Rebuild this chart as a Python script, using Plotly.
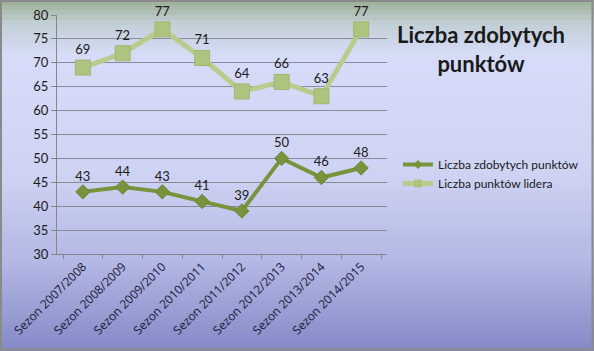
import plotly.graph_objects as go

categories = ["Sezon 2007/2008", "Sezon 2008/2009", "Sezon 2009/2010", "Sezon 2010/2011",
              "Sezon 2011/2012", "Sezon 2012/2013", "Sezon 2013/2014", "Sezon 2014/2015"]
zdobyte = [43, 44, 43, 41, 39, 50, 46, 48]
lider = [69, 72, 77, 71, 64, 66, 63, 77]
y_ticks = [30, 35, 40, 45, 50, 55, 60, 65, 70, 75, 80]
series_names = ["Liczba zdobytych punktów", "Liczba punktów lidera"]

W, H = 594, 351
L, R, T, B = 57, 207, 15, 97
pw, ph = W - L - R, H - T - B

DARK, DARK_M = "#77933c", "#6a8535"
LIGHT, LIGHT_M = "#b8cc8e", "#adc47f"

fig = go.Figure()

fig.add_trace(go.Scatter(
    x=categories, y=zdobyte, name=series_names[0], showlegend=False,
    mode="lines+markers+text", text=[str(v) for v in zdobyte], textposition="top center",
    textfont=dict(family="Lato, Open Sans, sans-serif", size=13, color="#1a1a1a"),
    line=dict(color=DARK, width=4), cliponaxis=False,
    marker=dict(symbol="diamond", size=11, color=DARK, line=dict(color=DARK_M, width=1)),
))
fig.add_trace(go.Scatter(
    x=categories, y=lider, name=series_names[1], showlegend=False,
    mode="lines+markers+text", text=[str(v) for v in lider], textposition="top center",
    textfont=dict(family="Lato, Open Sans, sans-serif", size=13, color="#1a1a1a"),
    line=dict(color=LIGHT, width=5), cliponaxis=False,
    marker=dict(symbol="square", size=15, color=LIGHT_M, line=dict(color="#9fb872", width=1)),
))
# legend entries (smaller symbols, as in the original legend)
fig.add_trace(go.Scatter(x=[None], y=[None], name=series_names[0], mode="lines+markers",
                         line=dict(color=DARK, width=4),
                         marker=dict(symbol="diamond", size=7, color=DARK)))
fig.add_trace(go.Scatter(x=[None], y=[None], name=series_names[1], mode="lines+markers",
                         line=dict(color=LIGHT, width=5),
                         marker=dict(symbol="square", size=8, color=LIGHT_M)))

# background gradient (pixel rows from top of figure)
stops = [(0.0, (155, 175, 148)), (0.07, (195, 208, 215)), (0.16, (214, 220, 248)),
         (0.5, (206, 211, 243)), (0.75, (178, 183, 228)), (1.0, (132, 137, 198))]

def col(t):
    for i in range(len(stops) - 1):
        a, ca = stops[i]
        b, cb = stops[i + 1]
        if a <= t <= b:
            f = (t - a) / (b - a)
            c = [round(ca[k] + (cb[k] - ca[k]) * f) for k in range(3)]
            return "rgb(%d,%d,%d)" % tuple(c)
    return "rgb(132,137,198)"

def px_x(p):
    return (p - L) / pw

def px_y(p):
    return (H - B - p) / ph

shapes = []
N = 70
for i in range(N):
    y_top = i * H / N
    y_bot = (i + 1) * H / N + 0.8
    shapes.append(dict(type="rect", xref="paper", yref="paper",
                       x0=px_x(-2), x1=px_x(W + 2), y0=px_y(y_bot), y1=px_y(y_top),
                       fillcolor=col((i + 0.5) / N), line=dict(width=0), layer="below"))
# outer border
shapes.append(dict(type="rect", xref="paper", yref="paper",
                   x0=px_x(1), x1=px_x(W - 1.5), y0=px_y(H - 1.5), y1=px_y(1),
                   line=dict(color="#8a8a8a", width=2), fillcolor="rgba(0,0,0,0)", layer="above"))

fig.update_layout(
    width=W, height=H,
    margin=dict(l=L, r=R, t=T, b=B, autoexpand=False),
    paper_bgcolor="rgba(0,0,0,0)", plot_bgcolor="rgba(0,0,0,0)",
    shapes=shapes,
    showlegend=True,
    legend=dict(x=px_x(398), y=px_y(150), xanchor="left", yanchor="top",
                bgcolor="rgba(0,0,0,0)", font=dict(family="Lato, Open Sans, sans-serif", size=12, color="#1a1a1a"),
                itemwidth=30, tracegroupgap=4),
    annotations=[dict(text="<b>Liczba zdobytych<br>punktów</b>", xref="paper", yref="paper",
                      x=px_x(481), y=px_y(49), xanchor="center", yanchor="middle", showarrow=False,
                      font=dict(family="Lato, Open Sans, sans-serif", size=22, color="#1a1a1a"))],
    xaxis=dict(type="category", tickangle=-45, tickson="boundaries", ticks="outside", ticklen=4,
               tickcolor="#868686", showline=True, linecolor="#868686", linewidth=1, automargin=False,
               showgrid=False, tickfont=dict(family="Open Sans, sans-serif", size=12, color="#1a1a3a")),
    yaxis=dict(range=[30, 80], tickvals=y_ticks, ticks="outside", ticklen=5, tickcolor="#868686",
               showline=True, linecolor="#868686", linewidth=1, showgrid=True, gridcolor="#8a8a9a",
               gridwidth=1, zeroline=False, automargin=False,
               tickfont=dict(family="Lato, Open Sans, sans-serif", size=13, color="#1a1a1a")),
)

fig.write_html("out.html")
